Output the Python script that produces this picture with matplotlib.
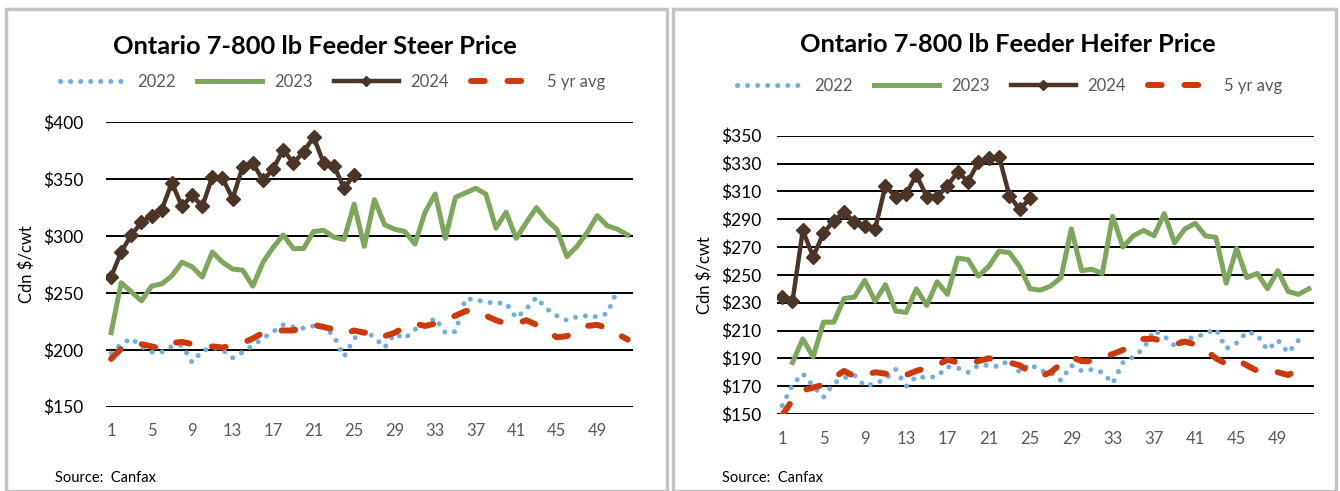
import matplotlib
matplotlib.use("Agg")
import matplotlib.pyplot as plt
from matplotlib.patches import Rectangle
import numpy as np

plt.rcParams["font.family"] = ["Lato", "DejaVu Sans"]

# ── Data (Cdn $/cwt by week) ────────────────────────────────────────────────

STEER_2022 = [197, 205, 210, 203, 198, 198, 203, 204, 189, 199, 202, 200, 193,
              198, 204, 210, 216, 222, 220, 219, 221, 221, 212, 194, 210, 217,
              211, 202, 214, 210, 218, 221, 228, 215, 216, 245, 244, 242, 241,
              241, 228, 236, 246, 236, 230, 226, 229, 230, 229, 232, 253]
STEER_2023 = [215, 259, 251, 243, 256, 258, 265, 277, 273, 264, 286, 277, 271,
              270, 256, 277, 290, 301, 289, 289, 304, 305, 299, 297, 328, 291,
              332, 310, 306, 304, 293, 321, 337, 298, 334, 338, 342, 337, 307,
              321, 298, 312, 325, 314, 306, 282, 291, 303, 318, 309, 306, 301]
STEER_2024 = [264, 286, 301, 312, 318, 323, 347, 326, 336, 326, 352, 351, 333,
              361, 364, 349, 359, 376, 364, 374, 387, 364, 362, 342, 354]
STEER_AVG = [192, 201, 206, 205, 203, 201, 206, 207, 205, 203, 203, 202, 204,
             206, 210, 215, 217, 217, 217, 220, 222, 220, 218, 214, 217, 215,
             217, 212, 215, 220, 223, 221, 223, 227, 230, 234, 235, 230, 226,
             223, 223, 226, 222, 217, 211, 212, 216, 221, 222, 219, 214, 209]

HEIFER_2022 = [156, 171, 179, 170, 162, 172, 176, 178, 170, 172, 175, 182, 170,
               177, 176, 177, 184, 183, 180, 185, 185, 184, 189, 180, 186, 181,
               180, 174, 185, 181, 182, 180, 172, 187, 191, 197, 210, 206, 199,
               204, 205, 208, 211, 197, 201, 209, 207, 196, 203, 194, 203]
HEIFER_2023 = [None, 187, 204, 191, 216, 216, 233, 234, 246, 231, 243, 224, 223,
               240, 228, 245, 236, 262, 261, 249, 256, 267, 266, 256, 240, 239,
               242, 248, 283, 253, 254, 251, 292, 270, 278, 282, 278, 294, 273,
               283, 287, 278, 277, 244, 269, 248, 251, 240, 253, 238, 236, 240]
HEIFER_2024 = [234, 231, 282, 263, 280, 289, 295, 288, 285, 283, 314, 306, 308,
               322, 306, 306, 314, 324, 317, 331, 334, 335, 307, 297, 305]
HEIFER_AVG = [149, 160, 167, 169, 171, 176, 181, 177, 178, 180, 179, 176, 178,
              181, 183, 185, 189, 187, 186, 188, 190, 189, 187, 185, 180, 177,
              180, 186, 191, 188, 188, 191, 193, 196, 201, 204, 204, 202, 200,
              202, 200, 196, 190, 186, 189, 185, 181, 182, 180, 178, 182]

SERIES_LABELS = ["2022", "2023", "2024", "5 yr avg"]
X_TICKS = list(range(1, 52, 4))

# ── Styling ─────────────────────────────────────────────────────────────────

C22 = "#6FAEE0"
C23 = "#7DA75A"
C24 = "#4B3527"
CAVG = "#CC3A0A"
GREY = "#595959"


def draw_panel(ax, title, s22, s23, s24, savg, yticks, ypad, title_xy, leg_xy):
    def wk(vals):
        x = np.arange(1, len(vals) + 1)
        y = np.array([np.nan if v is None else v for v in vals], dtype=float)
        return x, y

    x, y = wk(s22)
    ax.plot(x, y, color=C22, lw=3.6, ls=(0, (0.01, 2.0)),
            dash_capstyle="round", label=SERIES_LABELS[0], zorder=3)
    x, y = wk(s23)
    ax.plot(x, y, color=C23, lw=3.6, solid_joinstyle="round",
            label=SERIES_LABELS[1], zorder=4)
    x, y = wk(savg)
    ax.plot(x, y, color=CAVG, lw=4.3, ls=(0, (2.3, 3.8)),
            dash_capstyle="round", label=SERIES_LABELS[3], zorder=3)
    x, y = wk(s24)
    ax.plot(x, y, color=C24, lw=3.2, marker="D", ms=7.5, mec=C24,
            label=SERIES_LABELS[2], zorder=5)

    ax.set_xlim(0.5, 52.5)
    ax.set_ylim(yticks[0], yticks[-1])
    ax.set_yticks(yticks)
    ax.set_yticklabels([f"${v}" for v in yticks], fontsize=12.5)
    ax.set_xticks(X_TICKS)
    ax.set_xticklabels([str(v) for v in X_TICKS], fontsize=12, color=GREY)
    ax.tick_params(axis="both", length=0)
    ax.tick_params(axis="y", pad=ypad)
    ax.tick_params(axis="x", pad=12)
    ax.yaxis.grid(True, color="black", lw=1.4)
    ax.set_axisbelow(True)
    for s in ax.spines.values():
        s.set_visible(False)
    ax.set_ylabel("Cdn $/cwt", fontsize=12, labelpad=6)

    fig = ax.figure
    fig.text(title_xy[0], title_xy[1], title, ha="center", va="center",
             fontsize=18.3, fontweight="bold")
    handles, labels = ax.get_legend_handles_labels()
    order = [labels.index(l) for l in SERIES_LABELS]
    leg = fig.legend([handles[i] for i in order], [labels[i] for i in order],
                     loc="center", bbox_to_anchor=leg_xy, ncol=4, frameon=False,
                     fontsize=12, handlelength=3.9, columnspacing=1.3,
                     handletextpad=0.7, labelcolor=GREY, markerscale=0.7)
    return leg


W, H = 1340, 491
fig = plt.figure(figsize=(W / 100, H / 100), dpi=100)


def fx(px):
    return px / W


def fy(py):
    return 1 - py / H


# panel frames
fig.patches.append(Rectangle((fx(6), fy(491)), fx(661), (491 - 8.5) / H,
                             transform=fig.transFigure, fill=False,
                             ec="#C4C4C4", lw=2.5))
fig.patches.append(Rectangle((fx(673), fy(491)), fx(663), (491 - 8.5) / H,
                             transform=fig.transFigure, fill=False,
                             ec="#C4C4C4", lw=2.5))

ax1 = fig.add_axes([fx(106), fy(406.7), fx(632.7 - 106), (406.7 - 122.3) / H])
draw_panel(ax1, "Ontario 7-800 lb Feeder Steer Price",
           STEER_2022, STEER_2023, STEER_2024, STEER_AVG,
           [150, 200, 250, 300, 350, 400], 16,
           (fx(315), fy(46)), (fx(333), fy(82)))

ax2 = fig.add_axes([fx(777), fy(414), fx(1314 - 777), (414 - 135.7) / H])
draw_panel(ax2, "Ontario 7-800 lb Feeder Heifer Price",
           HEIFER_2022, HEIFER_2023, HEIFER_2024, HEIFER_AVG,
           list(range(150, 351, 20)), 11,
           (fx(1008), fy(45)), (fx(1010), fy(86)))

fig.text(fx(55), fy(478), "Source:  Canfax", fontsize=10.5, va="center")
fig.text(fx(722), fy(478), "Source:  Canfax", fontsize=10.5, va="center")

fig.savefig("out.png", dpi=100)
